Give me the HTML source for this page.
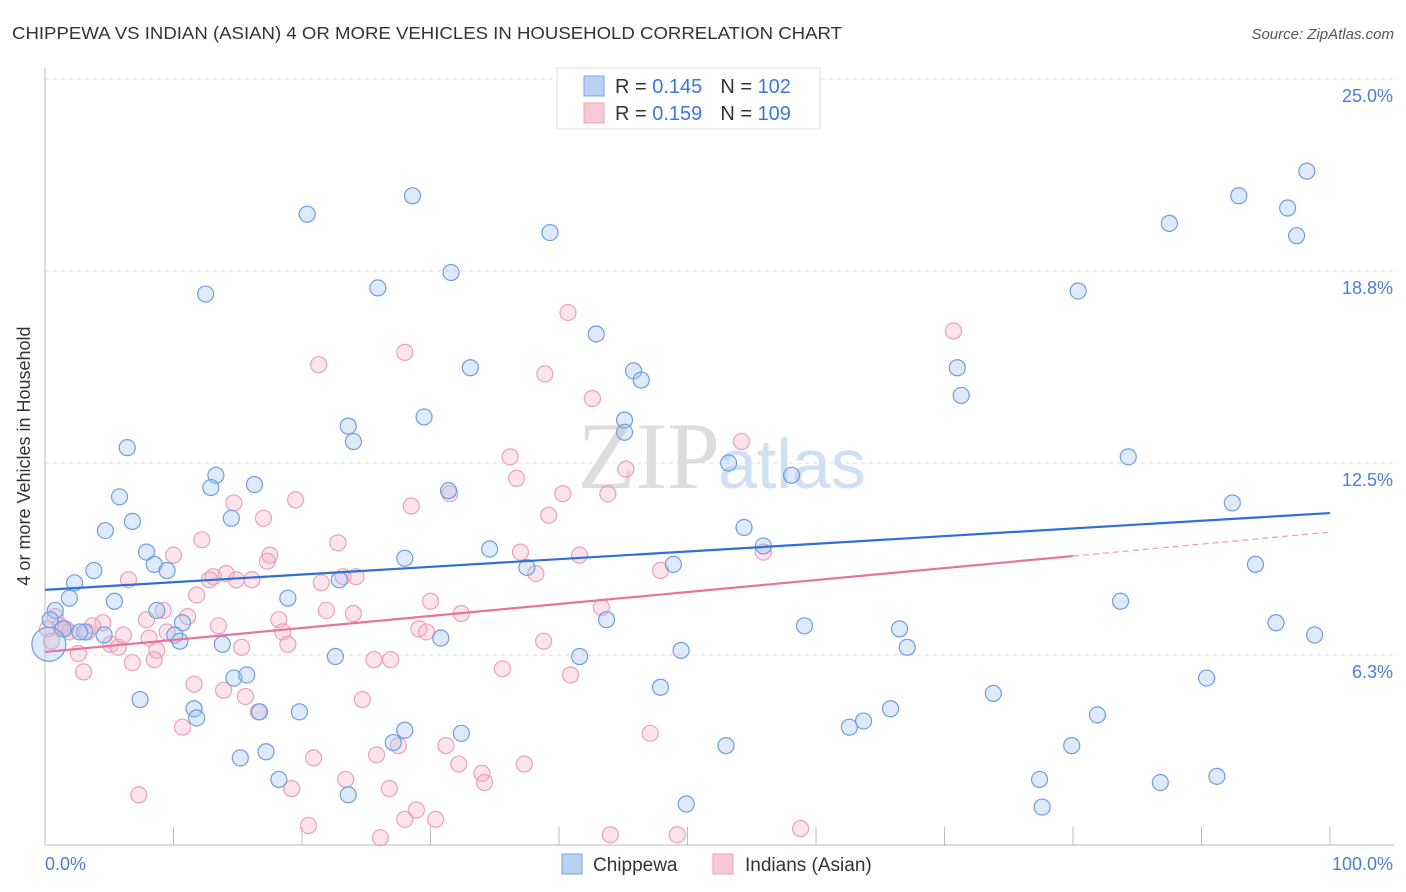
<!DOCTYPE html>
<html><head><meta charset="utf-8"><style>
body{margin:0;background:#fff;font-family:"Liberation Sans",sans-serif;}
svg{display:block}
</style></head><body>
<svg width="1406" height="892" xmlns="http://www.w3.org/2000/svg">
<text x="12" y="39" font-size="17.5" fill="#333" font-family="Liberation Sans, sans-serif" textLength="830" lengthAdjust="spacingAndGlyphs">CHIPPEWA VS INDIAN (ASIAN) 4 OR MORE VEHICLES IN HOUSEHOLD CORRELATION CHART</text>
<text x="1394" y="39" font-size="15" fill="#555" font-style="italic" text-anchor="end">Source: ZipAtlas.com</text>
<g id="grid"></g>
<text x="720" y="488" font-size="95" fill="#ddd" text-anchor="end" font-family="Liberation Serif, serif">ZIP</text>
<text x="718" y="488" font-size="70" fill="#cfe0f4" font-family="Liberation Sans, sans-serif">atlas</text>
<g id="points"></g>
<g id="trends"></g>
<text x="30" y="456" font-size="18" fill="#333" text-anchor="middle" transform="rotate(-90 30 456)">4 or more Vehicles in Household</text>
<text x="45" y="870" font-size="18" fill="#4a7fd4">0.0%</text>
<text x="1393" y="870" font-size="18" fill="#4a7fd4" text-anchor="end">100.0%</text>
<g>
<rect x="557" y="68" width="263" height="61" fill="#fff" stroke="#ddd"/>
<rect x="584" y="76" width="20" height="20" fill="#b9d2f3" stroke="#7aa7e3"/>
<rect x="584" y="103" width="20" height="20" fill="#f8c9d8" stroke="#eda0ba"/>
<text x="615" y="93" font-size="20" fill="#333">R = <tspan fill="#3b78d8">0.145</tspan><tspan dx="18">N = </tspan><tspan fill="#3b78d8">102</tspan></text>
<text x="615" y="120" font-size="20" fill="#333">R = <tspan fill="#3b78d8">0.159</tspan><tspan dx="18">N = </tspan><tspan fill="#3b78d8">109</tspan></text>
</g>
<g>
<rect x="562" y="854" width="20" height="20" fill="#b9d2f3" stroke="#7aa7e3"/>
<text x="593" y="871" font-size="19" fill="#333">Chippewa</text>
<rect x="713" y="854" width="20" height="20" fill="#f8c9d8" stroke="#eda0ba"/>
<text x="745" y="871" font-size="19" fill="#333">Indians (Asian)</text>
</g>
</svg>
<script>
const yTicks=[6.25,12.5,18.75,25];
const yTickLabels=["6.3%","12.5%","18.8%","25.0%"];
const xTicks=[0,10,20,30,40,50,60,70,80,90,100];
const blueX=[20.4,28.6,39.3,31.6,25.9,12.5,42.9,33.1,45.8,46.4,23.6,29.5,24.0,45.1,45.1,6.4,53.2,58.1,13.3,16.3,12.9,31.4,5.8,14.5,6.8,4.7,54.4,34.6,55.9,7.9,28.0,8.5,9.5,3.8,48.9,37.5,2.3,22.9,5.4,1.9,18.9,8.7,0.8,43.7,10.7,10.1,10.5,30.8,13.8,0.4,1.4,3.1,4.6,2.7,22.6,49.5,41.6,59.1,66.5,67.1,7.4,11.6,11.8,14.7,15.7,16.7,19.8,47.9,28.0,32.4,27.1,15.2,17.2,18.2,23.6,49.9,53.0,62.6,63.7,65.8,73.8,81.9,79.9,77.4,77.6,86.8,91.2,90.4,95.8,98.8,94.2,92.4,83.7,84.3,71.0,71.3,80.4,87.5,92.9,98.2,96.7,97.4,0.3];
const blueY=[20.6,21.2,20.0,18.7,18.2,18.0,16.7,15.6,15.5,15.2,13.7,14.0,13.2,13.9,13.5,13.0,12.5,12.1,12.1,11.8,11.7,11.6,11.4,10.7,10.6,10.3,10.4,9.7,9.8,9.6,9.4,9.2,9.0,9.0,9.2,9.1,8.6,8.7,8.0,8.1,8.1,7.7,7.7,7.4,7.3,6.9,6.7,6.8,6.6,7.4,7.1,7.0,6.9,7.0,6.2,6.4,6.2,7.2,7.1,6.5,4.8,4.5,4.2,5.5,5.6,4.4,4.4,5.2,3.8,3.7,3.4,2.9,3.1,2.2,1.7,1.4,3.3,3.9,4.1,4.5,5.0,4.3,3.3,2.2,1.3,2.1,2.3,5.5,7.3,6.9,9.2,11.2,8.0,12.7,15.6,14.7,18.1,20.3,21.2,22.0,20.8,19.9,6.6];
const pinkX=[40.7,70.7,28.0,21.3,38.9,42.6,54.2,36.2,36.7,45.2,19.5,14.7,28.5,31.5,40.3,43.8,17.0,39.2,12.2,22.8,37.0,41.6,10.0,17.5,17.3,6.5,12.8,14.1,13.1,14.9,16.1,23.2,24.2,21.5,38.2,47.9,55.9,11.8,30.0,32.4,9.2,21.9,24.0,43.3,18.2,11.1,13.5,7.9,4.5,3.3,9.5,8.1,29.1,29.7,18.5,18.9,15.3,5.1,5.7,6.1,8.7,2.6,8.5,6.8,3.0,25.6,26.9,35.6,38.8,40.9,11.6,13.9,15.6,24.7,16.6,10.7,47.1,31.2,27.5,25.8,20.9,32.2,37.3,34.0,34.2,23.4,19.2,26.8,7.3,28.9,28.0,30.4,20.5,26.1,44.0,49.2,58.8,0.8,1.2,1.6,0.2,0.5,1.9,3.7];
const pinkY=[17.4,16.8,16.1,15.7,15.4,14.6,13.2,12.7,12.0,12.3,11.3,11.2,11.1,11.5,11.5,11.5,10.7,10.8,10.0,9.9,9.6,9.5,9.5,9.5,9.3,8.7,8.7,8.9,8.8,8.7,8.7,8.8,8.8,8.6,8.9,9.0,9.6,8.2,8.0,7.6,7.7,7.7,7.6,7.8,7.4,7.5,7.2,7.4,7.3,7.0,7.0,6.8,7.1,7.0,7.0,6.6,6.5,6.6,6.5,6.9,6.4,6.3,6.1,6.0,5.7,6.1,6.1,5.8,6.7,5.6,5.3,5.1,4.9,4.8,4.4,3.9,3.7,3.3,3.3,3.0,2.9,2.7,2.7,2.4,2.1,2.2,1.9,1.9,1.7,1.2,0.9,0.9,0.7,0.3,0.4,0.4,0.6,7.5,7.2,7.1,7.1,6.7,7.0,7.2];
const blueTrend=[8.37,10.87];
const pinkTrend=[6.35,10.25];
const pinkSolidEnd=80;

const X0=45,X1=1330,YB=847,YT=79;
const sx=v=>X0+(X1-X0)*v/100;
const sy=v=>YB-(YB-YT)*v/25;
const NS="http://www.w3.org/2000/svg";
function mk(tag,attrs,parent){const e=document.createElementNS(NS,tag);for(const k in attrs)e.setAttribute(k,attrs[k]);parent.appendChild(e);return e;}
const grid=document.getElementById('grid');
yTicks.forEach((t,i)=>{
  const l=mk('line',{x1:X0,x2:1394,y1:sy(t),y2:sy(t),stroke:'#ddd','stroke-dasharray':'4,4'},grid);
  
  
  const tx=mk('text',{x:1393,y:sy(t)+23,'font-size':18,fill:'#4a7fd4','text-anchor':'end'},grid);
  tx.textContent=yTickLabels[i];
  
  
});
const ax=mk('line',{x1:X0,x2:X0,y1:68,y2:845,stroke:'#bbb'},grid);


const bx=mk('line',{x1:X0,x2:1394,y1:845,y2:845,stroke:'#bbb'},grid);


xTicks.forEach(t=>{
  const l=mk('line',{x1:sx(t),x2:sx(t),y1:827,y2:845,stroke:'#bbb'},grid);
  
  
});
const pts=document.getElementById('points');
pinkX.forEach((x,i)=>{
  const c=mk('circle',{cx:sx(x),cy:sy(pinkY[i]),r:8,fill:'rgba(246,176,200,0.35)',stroke:'#eba0bb','stroke-width':1.2},pts);
  
  
});
blueX.forEach((x,i)=>{
  const big=i===blueX.length-1;
  const c=mk('circle',{cx:sx(x),cy:sy(blueY[i]),r:big?17:8,fill:'rgba(160,195,240,0.35)',stroke:'#6d9fe0','stroke-width':1.2},pts);
  
  
});
const tr=document.getElementById('trends');
const bl=mk('line',{x1:sx(0),y1:sy(blueTrend[0]),x2:sx(100),y2:sy(blueTrend[1]),stroke:'#2f6fd6','stroke-width':2.2},tr);


const pm=pinkTrend[0]+(pinkTrend[1]-pinkTrend[0])*pinkSolidEnd/100;
const pl=mk('line',{x1:sx(0),y1:sy(pinkTrend[0]),x2:sx(pinkSolidEnd),y2:sy(pm),stroke:'#e8729c','stroke-width':2.2},tr);


const pd=mk('line',{x1:sx(pinkSolidEnd),y1:sy(pm),x2:sx(100),y2:sy(pinkTrend[1]),stroke:'#eea0bb','stroke-width':1.3,'stroke-dasharray':'6,4'},tr);


</script>
</body></html>
